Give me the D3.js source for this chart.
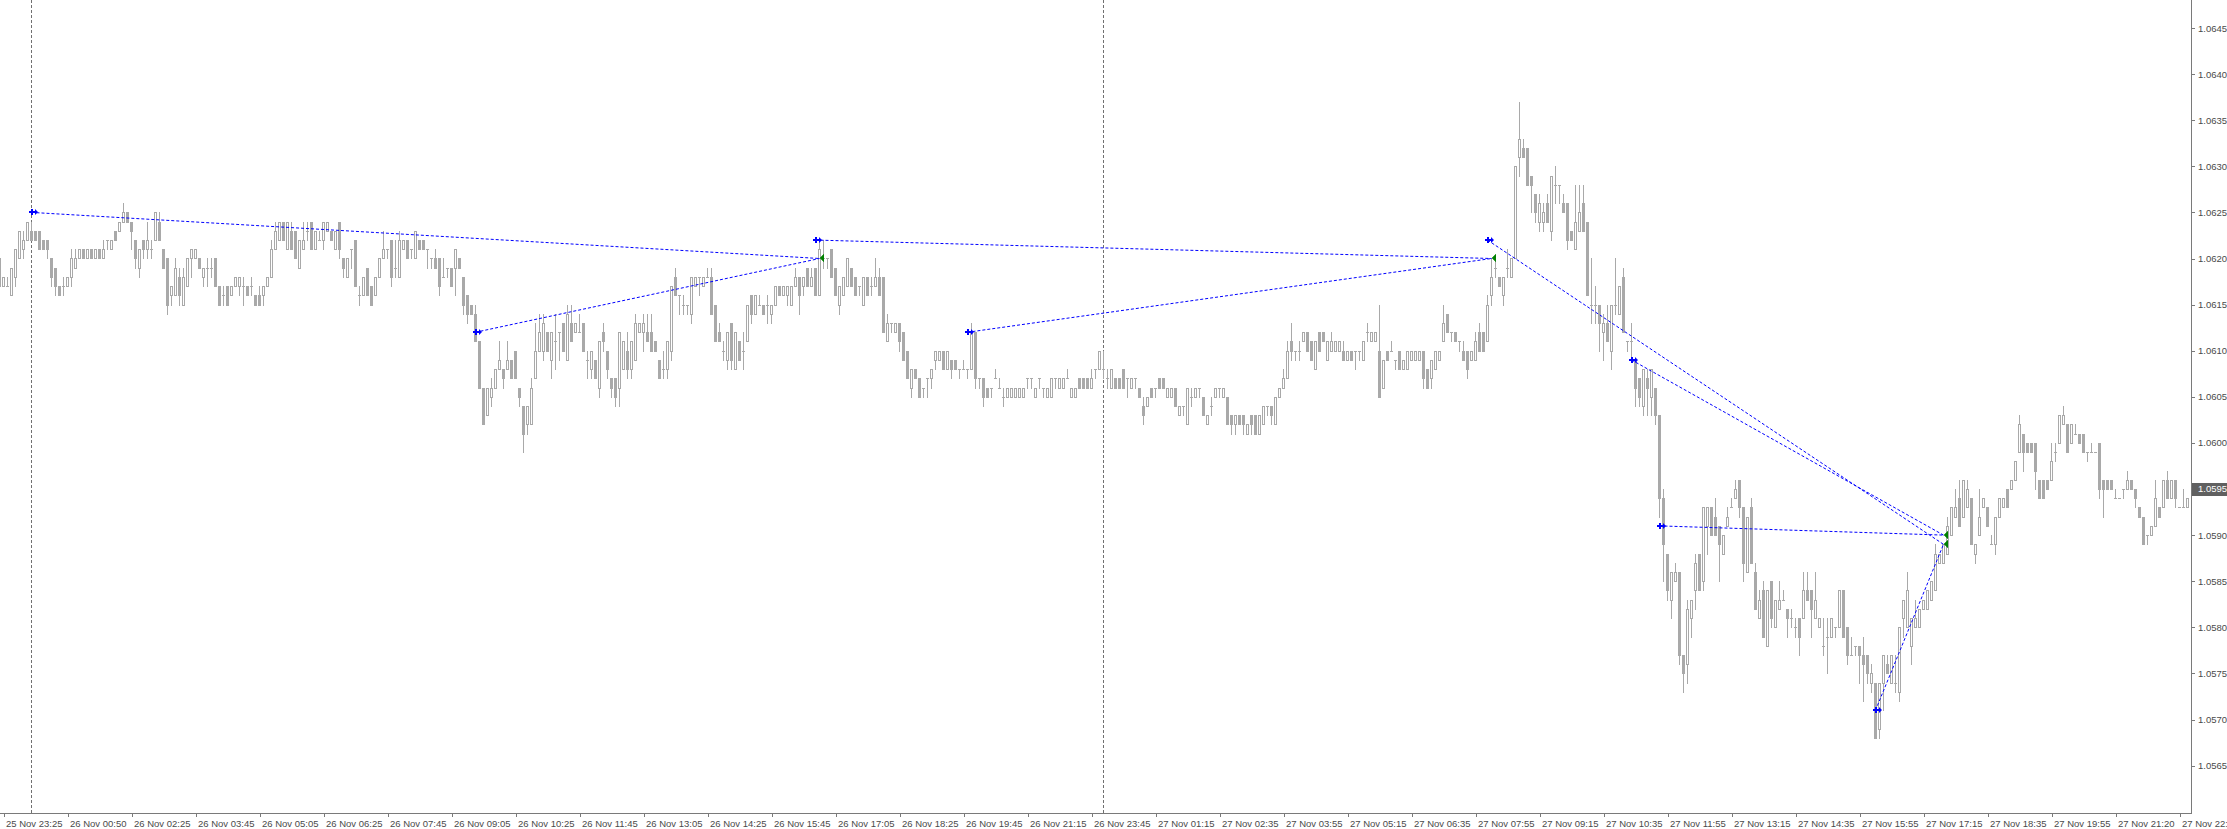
<!DOCTYPE html>
<html><head><meta charset="utf-8">
<script src="https://cdn.jsdelivr.net/npm/d3@7"></script>
<style>
html,body{margin:0;padding:0;background:#fff;overflow:hidden}
svg{display:block}
text{font-family:"Liberation Sans",Arial,sans-serif}
</style></head><body>
<svg id="c" width="2227" height="829"></svg>
<script>
// EURUSD M5 candles, values in pips: price = 1 + v/10000
const barOpen=[
620,617,617,616,618,620,621,622,623,623,
623,622,622,620,619,617,617,617,618,619,
620,621,620,621,620,621,620,622,621,623,
623,624,625,624,622,619,622,621,621,622,
624,621,620,616,616,618,615,617,620,620,
620,618,619,619,620,617,616,617,616,617,
617,617,617,617,616,616,616,617,618,621,
622,624,621,623,623,619,621,623,624,621,
622,622,623,623,621,624,620,618,621,622,
616,616,619,617,616,618,620,621,622,619,
618,621,622,621,620,622,622,621,620,620,
620,618,619,619,619,620,618,616,615,614,
611,606,603,605,606,608,608,608,609,610,
606,604,602,602,607,610,610,612,609,611,
612,613,609,613,612,612,613,609,608,609,
606,612,610,607,607,606,608,610,608,609,
612,612,612,612,611,609,608,608,610,618,
616,615,615,614,617,618,617,618,618,615,
612,610,609,613,608,611,610,611,616,614,
615,615,615,614,615,617,616,616,615,617,
618,617,619,617,619,616,620,620,621,619,
615,616,617,619,618,617,615,618,617,617,
618,618,611,613,612,613,612,610,606,608,
607,606,607,607,609,609,610,608,609,609,
608,608,608,608,612,607,607,606,606,607,
606,605,605,605,605,605,605,607,607,605,
607,606,605,605,607,606,606,607,605,605,
607,607,607,606,608,608,608,607,606,607,
607,608,607,606,607,606,604,604,606,606,
607,607,605,605,606,603,604,602,605,605,
606,605,602,604,605,606,605,605,603,602,
603,603,601,603,603,601,602,604,604,602,
605,606,607,611,610,610,611,612,611,608,
612,612,609,610,610,610,610,609,610,610,
610,609,612,611,611,610,606,610,610,609,
610,608,608,609,609,609,610,608,607,608,
609,611,614,612,612,611,610,610,609,609,
612,612,611,616,619,618,616,619,618,620,
631,632,632,629,627,624,624,626,623,628,
628,626,626,623,621,623,626,624,615,615,
615,612,613,610,615,614,618,611,611,609,
607,604,607,605,606,603,594,588,583,585,
586,577,576,581,584,588,585,591,593,592,
591,588,591,593,594,596,593,586,593,586,
581,584,578,585,580,582,583,582,581,580,
581,581,584,584,581,580,578,579,579,580,
580,584,580,577,578,578,577,577,574,574,
569,574,576,574,574,573,581,580,578,580,
580,582,582,583,584,587,587,588,590,592,
594,592,593,594,588,590,593,593,589,589,
592,593,595,595,596,599,601,600,600,600,
596,596,596,596,599,600,602,602,600,601,
601,601,599,599,599,600,596,596,596,594,
594,595,595,596,595,593,592,590,590,591,
593,593,596,594,596,593,593,593];
const barHigh=[
620,618,618,619,621,623,623,624,624,623,
623,622,622,620,619,617,618,618,621,621,
621,621,621,621,621,621,622,622,622,623,
624,626,625,624,622,621,622,624,622,625,
625,621,620,617,620,619,619,620,621,621,
620,619,620,620,620,617,617,617,617,618,
618,618,617,618,616,617,617,618,622,624,
624,624,624,624,623,622,624,624,624,623,
623,624,624,623,623,624,620,620,621,622,
617,618,619,617,618,620,623,621,622,622,
623,622,622,621,623,622,622,621,620,621,
620,620,619,619,621,620,618,616,615,615,
611,606,606,607,608,611,608,611,609,610,
606,604,604,607,613,614,614,612,612,614,
612,613,615,615,613,614,613,610,610,609,
611,613,610,607,607,612,611,612,611,614,
613,614,614,614,611,609,610,611,617,619,
616,616,615,618,618,618,618,619,619,615,
613,611,612,613,612,611,612,615,616,616,
616,615,616,615,617,617,617,617,617,619,
618,618,619,619,619,622,622,620,621,619,
617,618,620,619,618,617,618,618,618,620,
619,618,614,613,613,613,612,610,608,608,
607,606,607,608,610,610,610,610,609,609,
608,609,608,613,612,607,607,606,606,608,
607,606,606,606,606,606,606,607,607,606,
607,606,606,607,607,607,607,608,606,606,
607,607,607,608,608,610,610,608,608,607,
607,608,607,607,607,606,605,605,606,606,
607,607,606,606,606,604,604,606,606,606,
606,605,603,605,606,606,606,605,603,603,
603,603,602,603,603,603,604,604,604,605,
606,608,611,613,610,611,612,612,611,611,
612,612,611,612,611,611,611,610,610,610,
610,611,613,612,612,615,609,610,611,609,
610,609,610,610,610,610,610,608,609,610,
610,615,614,612,612,611,611,610,610,612,
613,612,616,620,620,618,618,621,620,630,
637,633,632,629,627,627,626,627,629,630,
628,627,626,623,628,628,628,624,620,617,
615,614,615,615,620,617,619,611,613,609,
607,608,608,608,606,603,595,588,586,587,
586,577,583,583,588,588,593,593,593,594,
591,590,593,594,596,596,593,592,594,587,
584,585,584,585,583,585,584,582,582,581,
581,586,586,584,586,581,581,581,581,580,
584,584,580,579,578,578,579,577,576,574,
574,577,577,577,577,580,583,586,581,583,
582,583,584,585,589,588,589,592,593,595,
596,596,596,594,589,595,594,593,590,592,
594,594,595,596,598,603,601,600,600,600,
596,596,596,600,600,603,604,602,602,602,
601,601,599,600,599,600,596,596,596,595,
594,595,597,596,595,593,592,590,591,596,
593,596,597,596,596,593,595,594];
const barLow=[
616,617,617,616,617,620,620,622,622,622,
621,621,620,617,616,616,616,617,617,619,
620,620,620,620,620,620,620,621,621,622,
623,624,624,621,619,618,620,620,620,622,
622,619,614,615,616,615,615,617,618,620,
619,617,617,618,617,615,615,615,616,617,
616,615,616,616,615,615,615,617,618,621,
622,622,621,621,620,619,621,622,621,621,
622,621,623,622,621,620,618,618,619,617,
615,616,616,615,616,618,620,620,617,618,
618,621,620,620,620,621,621,619,619,619,
616,618,618,617,616,619,614,613,614,611,
606,602,603,604,606,608,606,608,607,607,
604,599,601,602,607,610,609,610,607,608,
609,610,609,611,612,612,610,607,607,607,
605,610,607,605,604,604,608,607,607,609,
612,610,611,610,610,607,607,607,609,616,
614,614,614,613,617,616,617,618,614,611,
611,609,608,608,608,609,608,611,613,614,
615,614,613,613,615,616,616,615,615,617,
614,616,617,617,616,616,619,619,618,616,
614,616,617,617,616,616,615,616,616,617,
616,612,611,612,612,610,609,607,605,607,
605,605,605,606,608,609,608,608,607,608,
607,608,607,608,606,606,604,605,605,607,
606,604,605,605,605,605,605,606,606,605,
606,605,605,605,606,606,606,607,605,605,
606,606,606,606,607,608,607,606,606,606,
606,606,605,606,606,605,602,604,605,605,
606,606,605,605,604,603,603,602,604,605,
605,603,602,603,605,605,605,602,601,601,
602,601,601,601,601,601,602,603,602,602,
605,606,607,609,609,609,611,610,609,608,
610,611,609,610,610,610,609,609,609,608,
609,609,611,611,611,605,606,609,610,608,
608,608,608,609,609,609,606,606,606,608,
609,611,612,611,611,610,609,607,609,609,
610,610,611,615,618,617,615,618,618,620,
629,631,628,625,624,623,623,624,622,626,
626,625,621,622,621,623,623,616,613,613,
610,609,611,608,614,614,612,610,609,604,
604,603,603,603,602,592,585,583,581,585,
576,573,574,579,582,584,584,588,590,590,
585,588,591,593,594,592,585,586,587,582,
581,579,578,580,580,582,583,579,580,579,
577,581,583,579,581,580,577,575,579,579,
580,579,576,577,577,574,572,574,573,568,
568,571,575,574,573,572,579,580,576,580,
580,582,582,583,584,587,587,588,590,592,
591,592,593,589,587,590,593,591,589,588,
592,593,593,595,596,599,597,599,599,595,
594,594,595,596,598,600,602,599,600,601,
600,599,598,599,599,594,592,595,595,594,
594,594,595,595,593,592,589,589,590,591,
592,593,594,594,593,593,593,593];
const barClose=[
617,618,617,619,621,623,622,624,622,622,
621,621,621,618,617,616,617,618,620,620,
621,620,621,620,621,620,621,622,622,622,
624,625,624,623,620,621,621,622,621,625,
622,619,615,617,619,616,618,620,621,621,
619,619,619,619,617,615,616,615,617,618,
618,617,616,617,615,615,617,618,621,623,
624,622,624,621,620,622,622,623,621,623,
622,624,624,622,623,621,619,620,621,617,
616,618,616,615,618,620,621,621,618,619,
622,622,620,621,623,621,621,621,620,619,
617,618,619,617,621,619,615,614,614,611,
606,602,606,606,608,609,607,609,607,607,
605,601,604,606,610,612,613,610,612,611,
612,610,614,611,613,612,610,609,610,607,
611,611,608,606,605,612,611,608,611,613,
613,613,611,610,610,607,608,611,617,616,
616,615,615,618,618,618,618,618,614,611,
611,610,612,609,612,609,610,615,614,616,
615,614,615,615,617,616,617,617,617,618,
616,618,617,618,616,621,620,620,618,616,
617,618,620,617,616,617,618,616,617,618,
616,612,613,613,613,611,609,607,608,607,
605,606,607,608,610,610,608,610,608,608,
608,608,608,612,607,607,605,605,606,607,
606,605,606,606,606,606,606,607,607,606,
607,606,606,607,607,607,607,607,606,606,
606,606,606,607,608,610,608,607,608,606,
606,606,607,607,607,605,603,605,605,606,
606,606,606,606,604,604,604,606,605,606,
606,603,603,604,606,606,606,602,602,603,
602,602,602,602,601,603,604,604,603,605,
606,607,610,610,610,610,612,610,609,611,
610,611,611,611,611,611,609,610,609,610,
610,611,612,612,612,605,609,609,610,609,
608,609,610,610,610,610,607,606,609,610,
610,613,612,612,611,611,609,608,610,611,
610,610,615,618,619,617,618,619,620,630,
633,631,628,628,625,626,625,624,629,628,
628,625,622,622,624,625,623,616,615,615,
613,613,611,615,615,617,612,611,611,606,
605,608,606,608,603,594,589,584,586,586,
577,575,582,583,587,584,593,593,590,590,
589,590,592,593,595,593,587,592,587,582,
583,579,584,581,583,583,583,581,581,580,
579,584,583,582,583,581,578,579,581,580,
584,579,577,577,578,577,576,575,575,568,
574,577,575,577,574,580,583,584,581,581,
582,583,584,585,588,588,589,591,593,593,
591,596,595,589,589,592,594,591,589,592,
594,594,593,596,598,602,599,599,599,597,
594,594,595,598,599,603,603,599,602,601,
600,599,599,599,599,595,595,595,595,594,
594,595,596,595,594,592,589,590,591,594,
592,596,594,596,594,593,593,594];

// Right price scale labels
const priceTicks=[1.0645,1.0640,1.0635,1.0630,1.0625,1.0620,1.0615,1.0610,1.0605,1.0600,1.0590,1.0585,1.0580,1.0575,1.0570,1.0565];
const lastPrice=1.0595;

// Time scale: bar indices of ticks and their labels
const timeTickIdx=[1,17,33,49,65,81,97,113,129,145,161,177,193,209,225,241,257,273,289,305,321,337,353,369,385,401,417,433,449,465,481,497,513,529,545];
const timeLabels=["25 Nov 23:25","26 Nov 00:50","26 Nov 02:25","26 Nov 03:45","26 Nov 05:05","26 Nov 06:25","26 Nov 07:45","26 Nov 09:05","26 Nov 10:25","26 Nov 11:45","26 Nov 13:05","26 Nov 14:25","26 Nov 15:45","26 Nov 17:05","26 Nov 18:25","26 Nov 19:45","26 Nov 21:15","26 Nov 23:45","27 Nov 01:15","27 Nov 02:35","27 Nov 03:55","27 Nov 05:15","27 Nov 06:35","27 Nov 07:55","27 Nov 09:15","27 Nov 10:35","27 Nov 11:55","27 Nov 13:15","27 Nov 14:35","27 Nov 15:55","27 Nov 17:15","27 Nov 18:35","27 Nov 19:55","27 Nov 21:20","27 Nov 22:40"];
// Day separators (bar index)
const separatorIdx=[8,276];

// Trade history (bar index, price in pips)
const tradeOpenIdx=[8,119,204,242,372,408,415,469];
const tradeOpenPips=[625,612,622,612,622,609,591,571];
const tradeCloseIdx=[205,205,373,373,486,486,486,486];
const tradeClosePips=[620,620,620,620,589,590,590,589];

const W=2227,H=829,plotRight=2191,plotBottom=813;
const CANDLE='#a9a9a9',TXT='#4a4a4a',AX='#7a7a7a';
const N=barClose.length;
const P=v=>1+v/10000;

const x=d3.scaleLinear().domain([0,N-1]).range([-0.5,-0.5+4*(N-1)]);
const y=d3.scaleLinear().domain([1.0645,1.0565]).range([28,765.6]);

const svg=d3.select('#c');
svg.append('rect').attr('width',W).attr('height',H).attr('fill','#fff');

// day separators
svg.append('g').attr('shape-rendering','crispEdges').selectAll('line').data(separatorIdx).join('line')
  .attr('x1',d=>x(d)).attr('x2',d=>x(d)).attr('y1',0).attr('y2',plotBottom)
  .attr('stroke','#707070').attr('stroke-width',1).attr('stroke-dasharray','3,2');

const bars=d3.range(N).map(i=>({i,o:P(barOpen[i]),h:P(barHigh[i]),l:P(barLow[i]),c:P(barClose[i])}));
const ry=v=>Math.round(y(v));
const g=svg.append('g').attr('shape-rendering','crispEdges');
g.selectAll('rect.wick').data(bars).join('rect').attr('class','wick')
  .attr('x',d=>x(d.i)-0.5).attr('width',1)
  .attr('y',d=>ry(d.h)).attr('height',d=>ry(d.l)-ry(d.h)+1).attr('fill',CANDLE);
g.selectAll('rect.body').data(bars).join('rect').attr('class','body')
  .attr('x',d=>x(d.i)-1.5).attr('width',3)
  .attr('y',d=>ry(Math.max(d.o,d.c)))
  .attr('height',d=>ry(Math.min(d.o,d.c))-ry(Math.max(d.o,d.c))+1).attr('fill',CANDLE);
g.selectAll('rect.hollow').data(bars.filter(d=>d.c>d.o&&ry(d.o)-ry(d.c)>=2)).join('rect').attr('class','hollow')
  .attr('x',d=>x(d.i)-0.5).attr('width',1)
  .attr('y',d=>ry(d.c)+1).attr('height',d=>ry(d.o)-ry(d.c)-1).attr('fill','#fff');

// trades
const trades=tradeOpenIdx.map((d,k)=>({oi:d,op:P(tradeOpenPips[k]),ci:tradeCloseIdx[k],cp:P(tradeClosePips[k])}));
svg.append('g').selectAll('line').data(trades).join('line')
  .attr('x1',d=>x(d.oi)).attr('y1',d=>y(d.op)).attr('x2',d=>x(d.ci)).attr('y2',d=>y(d.cp))
  .attr('stroke','#0000ff').attr('stroke-width',1).attr('stroke-dasharray','3,2');
svg.append('g').selectAll('path').data(trades).join('path')
  .attr('transform',d=>`translate(${Math.round(x(d.ci))},${Math.round(y(d.cp))})`)
  .attr('d','M0,0L4,-4L4,4Z').attr('fill','#008000');
svg.append('g').selectAll('path').data(trades).join('path')
  .attr('transform',d=>`translate(${Math.round(x(d.oi))},${Math.round(y(d.op))})`)
  .attr('d','M-3,-1H3V-3L6,0L3,3V1H-3Z M-1,-3H1V3H-1Z').attr('fill','#0000ff');

// frame lines
const fr=svg.append('g').attr('shape-rendering','crispEdges');
fr.append('line').attr('x1',plotRight+0.5).attr('x2',plotRight+0.5).attr('y1',0).attr('y2',plotBottom+1).attr('stroke',AX);
fr.append('line').attr('x1',0).attr('x2',plotRight+1).attr('y1',plotBottom+0.5).attr('y2',plotBottom+0.5).attr('stroke',AX);

// price axis
const ga=svg.append('g').attr('transform',`translate(${plotRight+1},0)`).attr('shape-rendering','crispEdges')
  .call(d3.axisRight(y).tickValues(priceTicks).tickFormat(d3.format('.4f')).tickSize(3).tickPadding(3));
ga.select('.domain').remove();
ga.selectAll('line').attr('stroke',AX);
ga.selectAll('text').attr('fill',TXT).attr('font-size','9.5px').attr('font-family','"Liberation Sans",Arial,sans-serif');

// last price box
const ly=Math.round(y(lastPrice));
svg.append('rect').attr('x',plotRight+1).attr('y',ly-6).attr('width',W-plotRight-1).attr('height',13).attr('fill','#606060');
svg.append('text').attr('x',plotRight+7).attr('y',ly).attr('dy','0.32em').attr('fill','#fff')
  .attr('font-size','9.5px').text(d3.format('.4f')(lastPrice));

// time axis
const gx=svg.append('g').attr('transform',`translate(0,${plotBottom})`).attr('shape-rendering','crispEdges')
  .call(d3.axisBottom(x).tickValues(timeTickIdx).tickFormat((d,k)=>timeLabels[k]).tickSize(4).tickPadding(3));
gx.select('.domain').remove();
gx.selectAll('line').attr('stroke',AX);
gx.selectAll('text').attr('text-anchor','start').attr('dx',2).attr('fill',TXT)
  .attr('font-size','9.5px').attr('font-family','"Liberation Sans",Arial,sans-serif');
</script>
</body></html>
